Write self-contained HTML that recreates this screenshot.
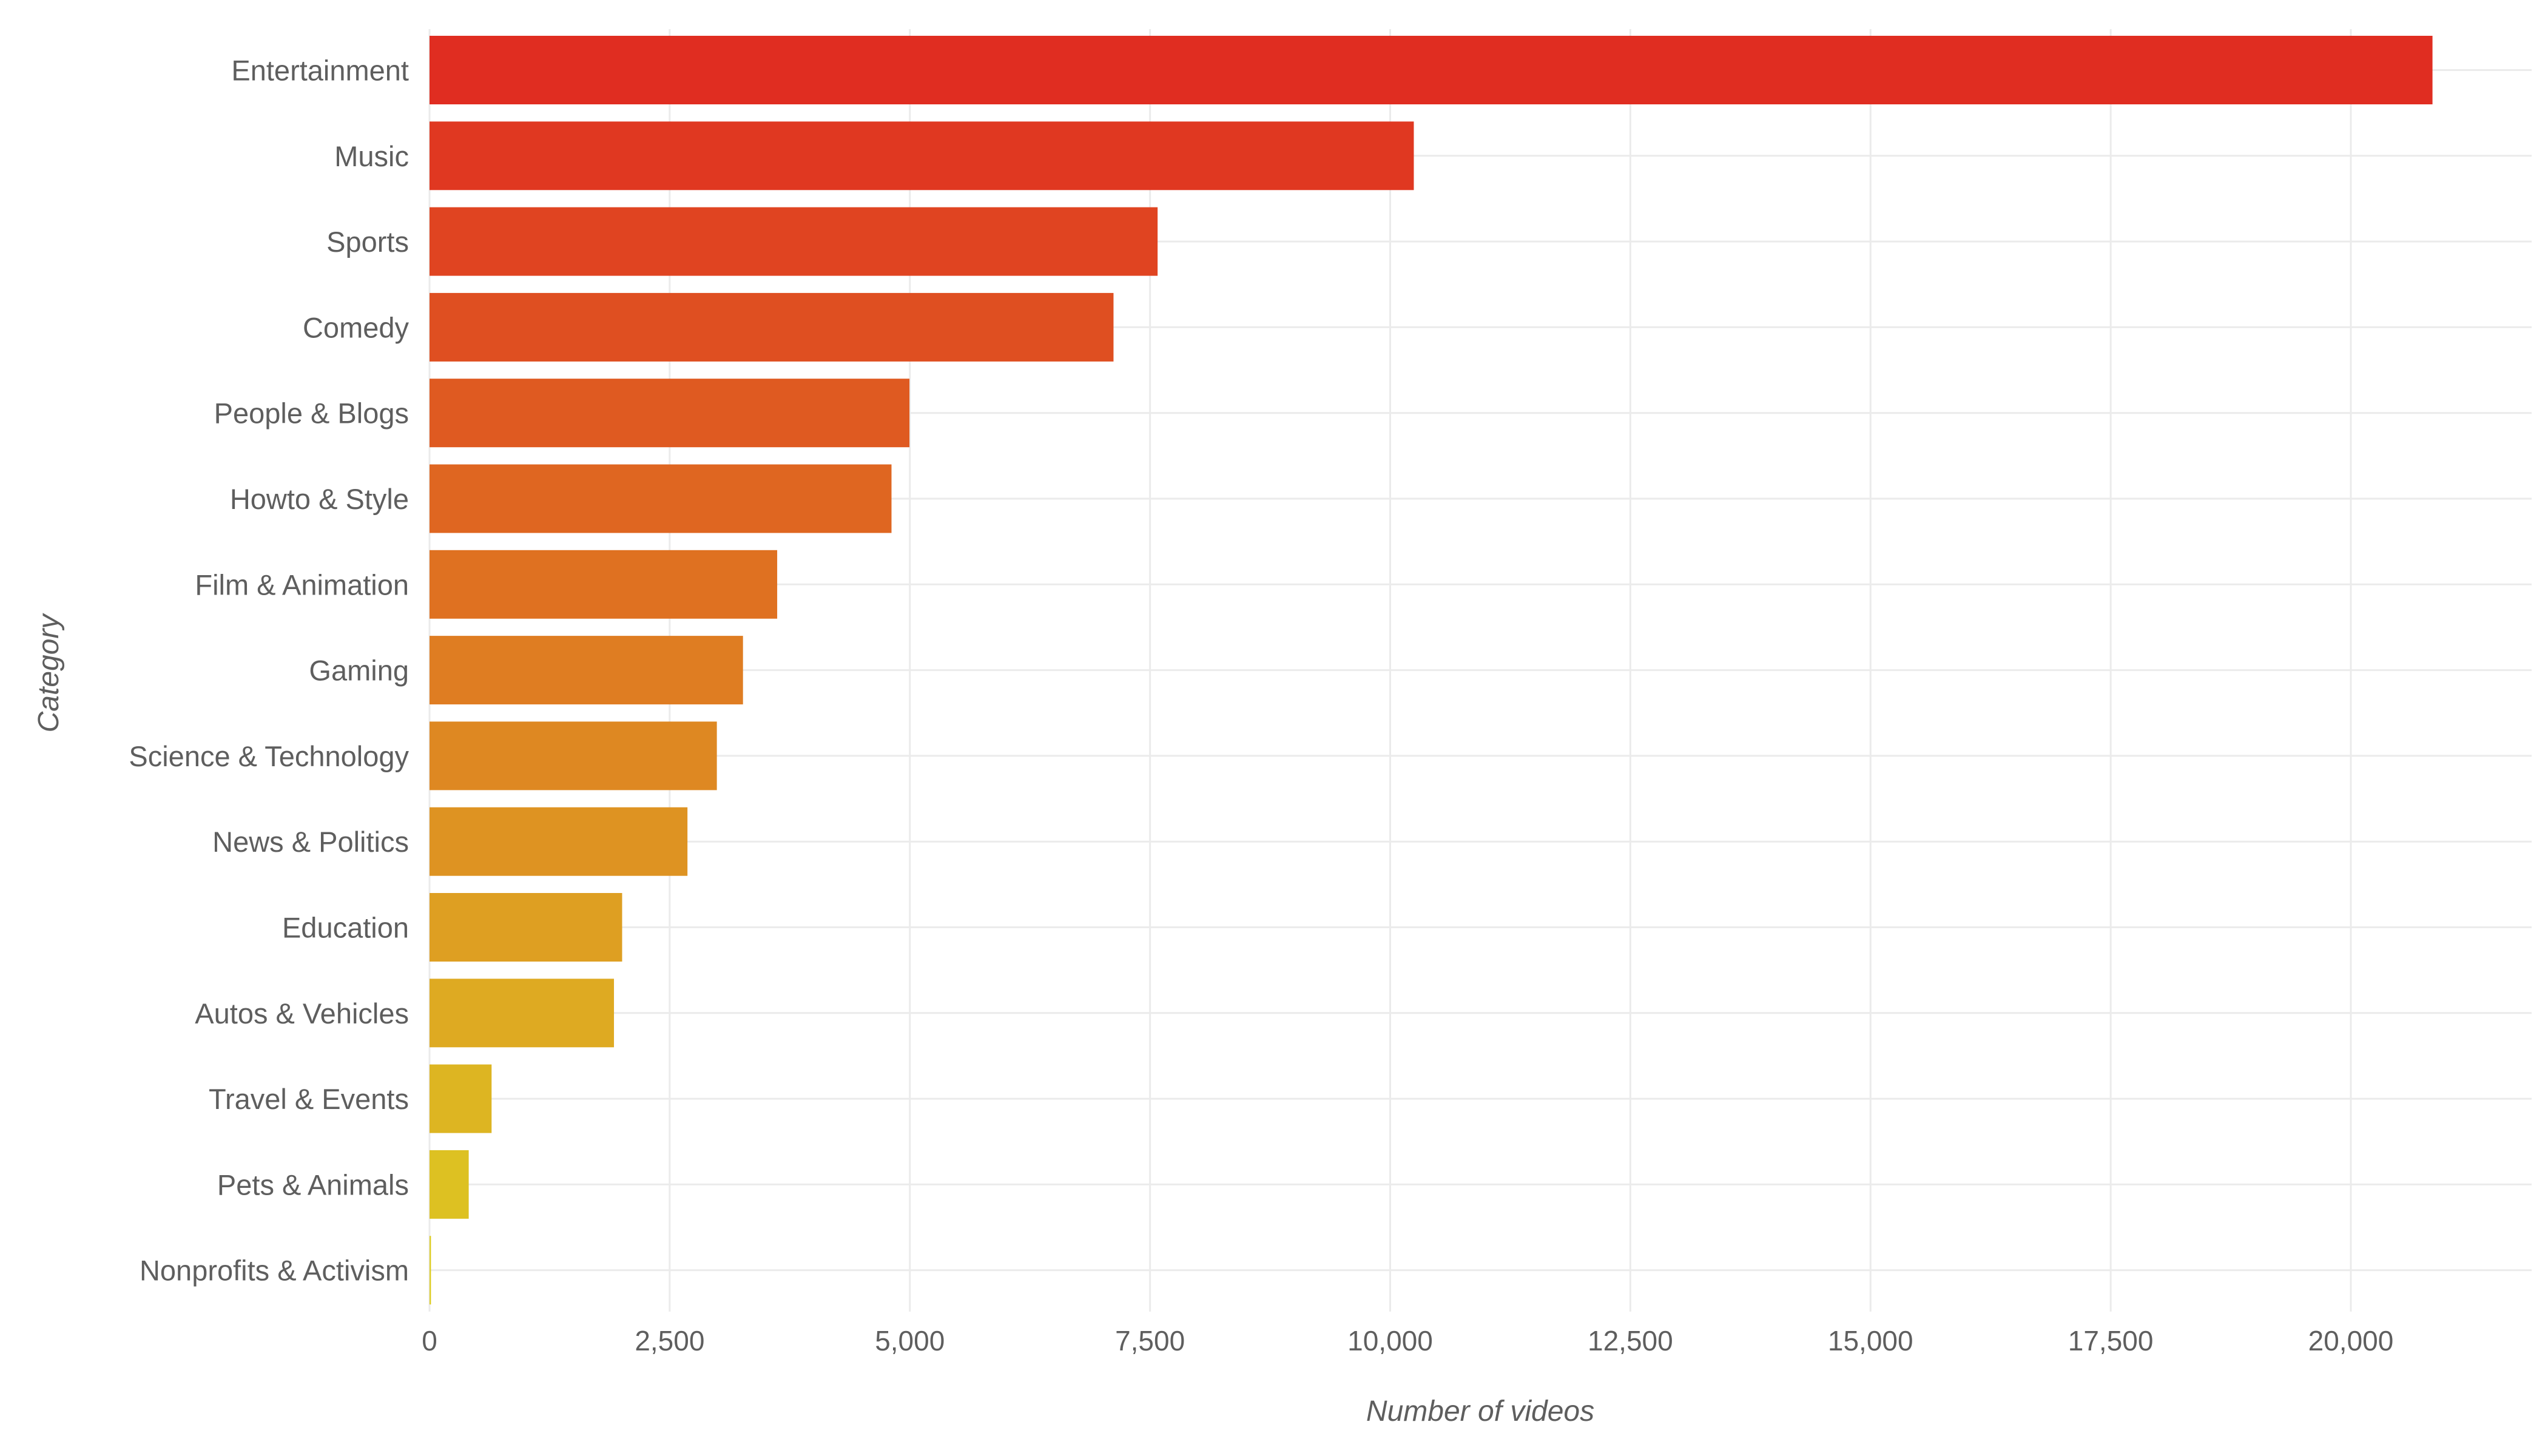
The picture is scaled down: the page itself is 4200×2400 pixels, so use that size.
<!DOCTYPE html>
<html><head><meta charset="utf-8"><style>
html,body{margin:0;padding:0;background:#fff;}
svg{display:block;font-family:"Liberation Sans","DejaVu Sans",sans-serif;}
</style></head><body>
<svg id="chart" width="4200" height="2400" viewBox="0 0 4200 2400"></svg>
<script>
const categories=["Entertainment","Music","Sports","Comedy","People & Blogs","Howto & Style","Film & Animation","Gaming","Science & Technology","News & Politics","Education","Autos & Vehicles","Travel & Events","Pets & Animals","Nonprofits & Activism"];
const counts=[20850,10246,7579,7120,4996,4809,3619,3263,2991,2685,2005,1920,646,408,15];
const xTicks=[0,2500,5000,7500,10000,12500,15000,17500,20000];
const xTickLabels=["0","2,500","5,000","7,500","10,000","12,500","15,000","17,500","20,000"];

const NS="http://www.w3.org/2000/svg";
const svg=document.getElementById('chart');
const L=708,R=4173,T=48,B=2162;
const x0=L,pxPerUnit=(3875-708)/20000;
function xs(v){return x0+v*pxPerUnit;}
const yFirst=115.5,pitch=141.3,barH=113;
function ys(i){return yFirst+i*pitch;}
function mk(tag,attrs){const e=document.createElementNS(NS,tag);for(const k in attrs)e.setAttribute(k,attrs[k]);svg.appendChild(e);return e;}
const c0=[224,45,33],c1=[221,204,34];
function col(i){const t=i/(categories.length-1);return 'rgb('+c0.map((c,j)=>Math.round(c+(c1[j]-c)*t)).join(',')+')';}

// vertical gridlines
xTicks.forEach((v,i)=>{
  const g=mk('line',{x1:xs(v),x2:xs(v),y1:T,y2:B,stroke:'#ebebeb','stroke-width':3});
  
  
  const t=mk('text',{x:xs(v),y:2226,'text-anchor':'middle','font-size':46,fill:'#5e5e5e'});
  t.textContent=xTickLabels[i];
  
  
});
// horizontal gridlines
categories.forEach((c,i)=>{
  const g=mk('line',{x1:L,x2:R,y1:ys(i),y2:ys(i),stroke:'#ebebeb','stroke-width':3});
  
  
});
// bars and labels
categories.forEach((c,i)=>{
  const w=Math.max(xs(counts[i])-xs(0),1);
  const r=mk('rect',{x:xs(0),y:ys(i)-barH/2,width:w,height:barH,fill:col(i)});
  
  
  const t=mk('text',{x:674,y:ys(i)+17,'text-anchor':'end','font-size':47,fill:'#5e5e5e'});
  t.textContent=c;
  
  
});
const xt=mk('text',{x:2440,y:2342,'text-anchor':'middle','font-size':48,'font-style':'italic',fill:'#5e5e5e'});
xt.textContent='Number of videos';


const yt=mk('text',{x:0,y:0,'text-anchor':'middle','font-size':48,'font-style':'italic',fill:'#5e5e5e',transform:'translate(96,1110) rotate(-90)'});
yt.textContent='Category';


</script>
</body></html>
